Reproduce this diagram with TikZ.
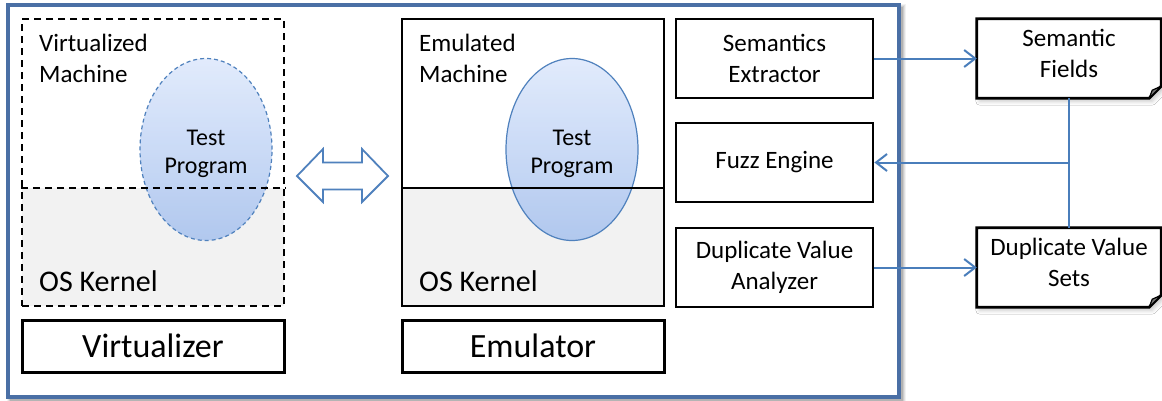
\documentclass[tikz,border=0pt]{standalone}
\usepackage{fontspec}
\setmainfont{Carlito}
\usetikzlibrary{arrows.meta,shapes.geometric,shadows.blur,calc,backgrounds}
\definecolor{frameblue}{HTML}{4A6FA5}
\definecolor{linkblue}{HTML}{4A7EBB}
\definecolor{ellborder}{HTML}{4F81BD}
\definecolor{elltop}{HTML}{DDE8FC}
\definecolor{ellbot}{HTML}{A6C1EE}
\definecolor{kernelgray}{HTML}{F2F2F2}
\begin{document}
\begin{tikzpicture}[x=1pt,y=-1pt,
  lbl/.style={font=\fontsize{25}{31}\selectfont, inner sep=0pt, align=left},
  kern/.style={font=\fontsize{30}{36}\selectfont, inner sep=0pt},
  tp/.style={font=\fontsize{24}{28}\selectfont, inner sep=0pt, align=center},
  big/.style={font=\fontsize{34}{41}\selectfont},
  compbox/.style={draw=black, line width=2.8pt, minimum width=197pt, minimum height=79pt,
    align=center, inner sep=0pt, font=\fontsize{25}{31}\selectfont},
  databox/.style={minimum width=184pt, minimum height=79pt, align=center, inner sep=0pt,
    font=\fontsize{25}{31}\selectfont},
  soft/.style={blur shadow={shadow xshift=3pt, shadow yshift=-3pt, shadow blur radius=4pt, shadow opacity=22}},
  prog/.style={ellipse, minimum width=132pt, minimum height=182pt, draw=ellborder, line width=1.2pt,
    top color=elltop, bottom color=ellbot, fill opacity=0.85},
  link/.style={draw=linkblue, line width=2pt, -{Straight Barb[length=11pt,width=17pt,line width=2pt]}},
  linkline/.style={draw=linkblue, line width=2pt}]
\begin{scope}[on background layer]
\fill[white] (0,0) rectangle (1162,400);
\end{scope}
\useasboundingbox (0,0) rectangle (1162,400);

% outer frame with a soft shadow
\foreach \w/\o in {8/0.05,6/0.07,4/0.09,2/0.12}{
  \draw[black, line width=\w pt, opacity=\o] (11,8) rectangle (902,400);
}
\node[draw=frameblue, line width=3.5pt, minimum width=891pt, minimum height=392pt, inner sep=0pt, fill=white] (frame) at (453.5,201) {};

% virtualized machine
\fill[kernelgray] (22,188) rectangle (284,306);
\node[prog, dashed, dash pattern=on 4pt off 3pt] (vell) at (206,149.5) {};
\node[draw=black, dashed, dash pattern=on 7pt off 5pt, line width=2.2pt, minimum width=262pt, minimum height=287pt, inner sep=0pt] (vm) at (153,162.5) {};
\draw[dashed, dash pattern=on 7pt off 5pt, line width=2.2pt] (vm.west |- 0,188) -- (vm.east |- 0,188);
\node[lbl, anchor=west] (vmtext) at (39,58) {Virtualized\\Machine};
\node[tp] (vtp) at (206,154) {Test\\Program};
\node[kern, anchor=base west] (vk) at (39,291) {OS Kernel};
\node[draw=black, line width=3pt, minimum width=262pt, minimum height=52pt, inner sep=0pt, big] (virt) at (153,346) {Virtualizer};

% double arrow
\filldraw[draw=ellborder, fill=white, line width=1.8pt, line join=miter]
  (297,176) -- (323,149) -- (323,162.5) -- (362,162.5) -- (362,149) -- (388,176)
  -- (362,202) -- (362,189.5) -- (323,189.5) -- (323,202) -- cycle;

% emulated machine
\fill[kernelgray] (402,188) rectangle (664,306);
\node[prog] (eell) at (572,149.5) {};
\node[draw=black, line width=1.8pt, minimum width=262pt, minimum height=287pt, inner sep=0pt] (em) at (533,162.5) {};
\draw[line width=1.8pt] (em.west |- 0,188) -- (em.east |- 0,188);
\node[lbl, anchor=west] (emtext) at (419,58) {Emulated\\Machine};
\node[tp] (etp) at (572,154) {Test\\Program};
\node[kern, anchor=base west] (ek) at (419,291) {OS Kernel};
\node[draw=black, line width=3pt, minimum width=262pt, minimum height=52pt, inner sep=0pt, big] (emu) at (533,346) {Emulator};

% component boxes
\node[compbox] (se) at (774.5,58.5) {Semantics\\Extractor};
\node[compbox] (fuzz) at (774.5,162.5) {Fuzz Engine};
\node[compbox] (dva) at (774.5,267.5) {Duplicate Value\\Analyzer};

% data boxes (dog-eared)
\node[databox] (sf) at (1069,58.5) {};
\node[databox] (dvs) at (1069,267.5) {};
\begin{scope}[on background layer]
\foreach \n in {sf,dvs}{
  \filldraw[draw=black, fill=white, line width=2.8pt, line join=miter, soft]
    (\n.north west) -- (\n.north east) -- ($(\n.south east)+(0,-12)$) -- ($(\n.south east)+(-12,0)$) -- (\n.south west) -- cycle;
  \filldraw[draw=black, fill=black!55, line width=1.2pt, line join=round]
    ($(\n.south east)+(0,-12)$) -- ($(\n.south east)+(-9,-8)$) -- ($(\n.south east)+(-12,0)$) -- cycle;
}
\end{scope}
\node[databox] (sftext) at (1069,53) {Semantic\\Fields};
\node[databox] (dvstext) at (1069,262.5) {Duplicate Value\\Sets};

% connectors
\draw[link] (se.east) -- (sf.west);
\draw[link] (dva.east) -- (dvs.west);
\draw[linkline] (sf.south) -- (dvs.north);
\coordinate (junction) at (sf.south |- fuzz.east);
\draw[link] (junction) -- (fuzz.east);
\end{tikzpicture}
\end{document}
